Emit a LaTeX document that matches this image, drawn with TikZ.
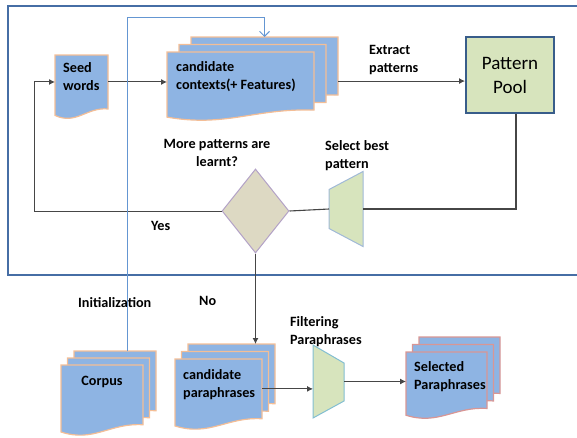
\documentclass[tikz,border=0pt]{standalone}
\usepackage{fontspec}
\setmainfont{Carlito}
\usepackage{tikz}
\usetikzlibrary{calc}
\usetikzlibrary{shapes.geometric}
\usetikzlibrary{arrows.meta}
\tikzset{>={Latex[width=6pt,length=6pt]}}
\usepackage{color}
\definecolor{docColor}{RGB}{142, 180, 227}
\definecolor{edgeColor}{RGB}{244, 190, 150}
\definecolor{outEdgeColor}{RGB}{217, 150, 148}
\definecolor{greenColor}{RGB}{215, 228, 189}
\definecolor{poolEdgeColor}{RGB}{56, 93, 138}
\definecolor{frameColor}{RGB}{70, 110, 165}
\definecolor{initColor}{RGB}{100, 150, 210}
\definecolor{decColor}{RGB}{221, 217, 195}
\definecolor{decEdgeColor}{RGB}{179, 162, 199}
\definecolor{trapEdgeColor}{RGB}{160, 185, 215}
\definecolor{filterEdgeColor}{RGB}{130, 190, 210}
\definecolor{lineColor}{RGB}{70, 70, 70}
\newcommand{\labelfont}{\fontsize{14.2}{18}\selectfont\bfseries}
\newcommand{\poolfont}{\fontsize{19}{24}\selectfont}

% page: name, x, y, width, height, border
\newcommand{\docpage}[6]{
  \filldraw[pagefill, draw=#6] (#2,#3) -- ({#2+#4},#3) -- ({#2+#4},{#3+0.83*#5})
    .. controls ({#2+0.6*#4},{#3+0.8*#5}) and ({#2+0.4*#4},{#3+1.08*#5}) .. (#2,{#3+0.93*#5}) -- cycle;
  \node[pagebox, minimum width=#4pt, minimum height={0.83*#5pt}, anchor=north west] (#1) at (#2,#3) {};
}
% three pages: name, x, y, width, height, dx, dy, border
\newcommand{\docstack}[8]{
  \docpage{#1-back}{#2+2*#6}{#3-2*#7}{#4}{#5}{#8}
  \docpage{#1-mid}{#2+#6}{#3-#7}{#4}{#5}{#8}
  \docpage{#1}{#2}{#3}{#4}{#5}{#8}
}

\begin{document}
\begin{tikzpicture}[
    x = 1pt, y = -1pt,
    pagefill/.style = {fill=docColor, line width=1.2pt},
    pagebox/.style = {inner sep=0pt, outer sep=0pt},
    doctext/.style = {inner sep=0pt, align=left, font=\labelfont},
    flow/.style = {->, line width=1pt, lineColor},
    backline/.style = {line width=1.1pt, lineColor},
    initline/.style = {-{Straight Barb[length=5pt,width=10pt]}, line width=0.9pt, initColor},
    trap/.style = {fill=greenColor, draw=#1, line width=1pt},
    trapbox/.style = {inner sep=0pt, outer sep=0pt},
    pool/.style = {draw=poolEdgeColor, fill=greenColor, line width=2pt,
        minimum width=88pt, minimum height=76pt, align=center, font=\poolfont},
    decision/.style = {diamond, fill=decColor, draw=decEdgeColor, line width=1pt,
        minimum width=67pt, minimum height=84pt, inner sep=0pt}
  ]
  \useasboundingbox (0,0) rectangle (577,437);
  \draw[frameColor, line width=2pt] (8,6) rectangle (590,275);

  % documents
  \docpage{SEED}{55}{55}{53}{65}{edgeColor}
  \docstack{CTX}{167}{52}{147}{70}{12}{7.5}{edgeColor}
  \docstack{CORPUS}{61}{365}{82}{72}{6.5}{7}{edgeColor}
  \docstack{CPARA}{175}{359}{87}{72}{6.5}{7.5}{edgeColor}
  \docstack{OUT}{406}{352}{81}{68}{6.5}{7.5}{outEdgeColor}

  \node[doctext, anchor=north west] (SEEDTEXT) at ([xshift=8pt,yshift=-7pt]SEED.north west) {Seed\\words};
  \node[doctext, anchor=north west] (CTXTEXT) at ([xshift=9pt,yshift=-9pt]CTX.north west) {candidate\\contexts(+ Features)};
  \node[doctext, anchor=north] (CORPUSTEXT) at ([yshift=-11pt]CORPUS.north) {Corpus};
  \node[doctext, anchor=north west] (CPARATEXT) at ([xshift=8pt,yshift=-10pt]CPARA.north west) {candidate\\paraphrases};
  \node[doctext, anchor=north west] (OUTTEXT) at ([xshift=8pt,yshift=-9pt]OUT.north west) {Selected\\Paraphrases};

  % pool, decision, filters
  \node[pool] (POOL) at (510,75) {Pattern\\Pool};
  \node[decision] (DEC) at (255.5,211) {};
  \node[trapbox, minimum width=34pt, minimum height=75pt] (SELECT) at (346,209) {};
  \filldraw[trap=trapEdgeColor] (SELECT.north east) -- (SELECT.south east)
    -- ([yshift=18pt]SELECT.south west) -- ([yshift=-18pt]SELECT.north west) -- cycle;
  \node[trapbox, minimum width=31pt, minimum height=73pt] (FILTER) at (328.5,381.5) {};
  \filldraw[trap=filterEdgeColor] (FILTER.north west) -- ([yshift=-18pt]FILTER.north east)
    -- ([yshift=17pt]FILTER.south east) -- (FILTER.south west) -- cycle;

  % connectors
  \coordinate (TURN) at (34,211);
  \coordinate (INITTOP) at (127,17);
  \draw[flow] (SEED.east) -- (SEED.east -| CTX.west);
  \draw[flow] (CTX.east -| CTX-back.east) -- (CTX.east -| POOL.west);
  \draw[backline] ([xshift=6pt]POOL.south) |- (SELECT.east);
  \draw[backline] (SELECT.west) -- (DEC.east);
  \draw[flow] (DEC.west) -- (TURN) |- (SEED.west);
  \draw[initline] (CORPUS-back.north -| INITTOP) -- (INITTOP) -| (CTX-back.north);
  \draw[flow] (DEC.south) -- (DEC.south |- CPARA-back.north);
  \draw[flow] (CPARA.east) -- (CPARA.east -| FILTER.west);
  \draw[flow] (FILTER.east) -- (FILTER.east -| OUT.west);

  % labels
  \node[doctext, anchor=north west] (EXTRACT) at (369,45) {Extract\\patterns};
  \node[doctext, anchor=north west] (BEST) at (325,140) {Select best\\pattern};
  \node[doctext, anchor=north, align=center] (MORE) at (217,139) {More patterns are\\learnt?};
  \node[doctext, anchor=north west] (YES) at (151,221) {Yes};
  \node[doctext, anchor=north west] (NO) at (199,296) {No};
  \node[doctext, anchor=north west] (INIT) at (78,297) {Initialization};
  \node[doctext, anchor=north west] (FILT) at (290,316) {Filtering\\Paraphrases};
\end{tikzpicture}
\end{document}
